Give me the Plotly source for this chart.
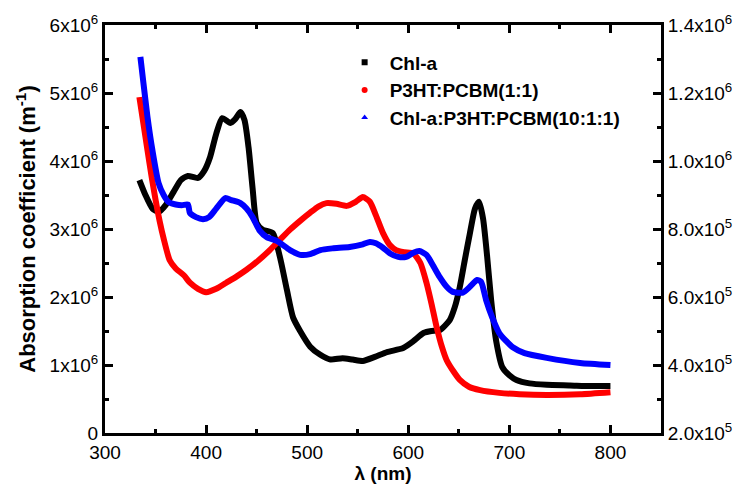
import plotly.graph_objects as go

# Chl-a (left axis, x1e6 m^-1)
chl_wl = [334, 340, 347, 353, 360, 368, 375, 382, 392, 398, 404, 410, 416, 424, 429, 434, 438,
          442, 446, 450, 456, 466, 473, 480, 486, 493, 503, 513, 523, 535, 545, 555, 567, 579,
          595, 605, 615, 623, 631, 641, 646, 651, 656, 661, 666, 670, 674, 678, 682, 687, 693,
          700, 707, 720, 737, 760, 780, 800]
chl_abs = [3.72, 3.5, 3.3, 3.25, 3.35, 3.55, 3.72, 3.78, 3.75, 3.85, 4.06, 4.4, 4.63, 4.56, 4.62,
           4.72, 4.6, 4.2, 3.6, 3.09, 2.99, 2.94, 2.59, 2.10, 1.70, 1.5, 1.27, 1.15, 1.08, 1.10,
           1.08, 1.06, 1.12, 1.19, 1.25, 1.35, 1.47, 1.5, 1.51, 1.66, 1.85, 2.15, 2.55, 2.94,
           3.3, 3.40, 3.15, 2.6, 1.95, 1.35, 0.97, 0.85, 0.78, 0.73, 0.71, 0.70, 0.69, 0.69]

# P3HT:PCBM(1:1) (left axis, x1e6 m^-1)
p3ht_wl = [334, 338, 342, 346, 350, 354, 358, 364, 370, 378, 384, 392, 400, 410, 420, 430, 440,
           452, 463, 473, 483, 493, 503, 511, 519, 529, 539, 548, 555, 562, 568, 575, 582, 588,
           596, 605, 612, 618, 623, 628, 633, 638, 645, 651, 660, 671, 690, 710, 737, 770, 800]
p3ht_abs = [4.94, 4.55, 4.16, 3.78, 3.43, 3.12, 2.86, 2.54, 2.42, 2.32, 2.21, 2.12, 2.07, 2.12,
            2.21, 2.3, 2.40, 2.54, 2.69, 2.84, 2.99, 3.12, 3.24, 3.33, 3.38, 3.37, 3.34, 3.40,
            3.47, 3.40, 3.2, 2.94, 2.76, 2.69, 2.66, 2.64, 2.5, 2.21, 1.9, 1.56, 1.28, 1.07,
            0.9, 0.78, 0.68, 0.63, 0.59, 0.57, 0.56, 0.57, 0.60]

# Chl-a:P3HT:PCBM(10:1:1) (right axis, x1e5 m^-1)
mix_wl = [335, 338, 342, 347, 353, 358, 363, 370, 376, 382, 384, 390, 397, 403, 410, 419, 425,
          434, 440, 446, 453, 460, 470, 483, 493, 503, 513, 525, 542, 555, 562, 568, 575, 582,
          590, 598, 605, 611, 618, 625, 631, 638, 644, 654, 661, 668, 672, 677, 683, 690, 697,
          703, 715, 737, 770, 800]
mix_abs = [13.06, 12.3, 11.3, 10.3, 9.35, 9.0, 8.79, 8.72, 8.7, 8.72, 8.47, 8.35, 8.29, 8.35,
           8.6, 8.91, 8.85, 8.76, 8.6, 8.35, 7.95, 7.76, 7.65, 7.38, 7.24, 7.26, 7.38, 7.43,
           7.47, 7.55, 7.62, 7.58, 7.45, 7.28, 7.18, 7.18, 7.3, 7.35, 7.24, 6.9, 6.59, 6.3,
           6.15, 6.13, 6.3, 6.5, 6.45, 5.91, 5.4, 4.94, 4.7, 4.53, 4.35, 4.21, 4.06, 4.0]

left_ticks = [0, 1e6, 2e6, 3e6, 4e6, 5e6, 6e6]
left_text = ["0"] + ["%dx10<sup>6</sup>" % i for i in range(1, 7)]
right_ticks = [2e5, 4e5, 6e5, 8e5, 1.0e6, 1.2e6, 1.4e6]
right_text = ["2.0x10<sup>5</sup>", "4.0x10<sup>5</sup>", "6.0x10<sup>5</sup>", "8.0x10<sup>5</sup>",
              "1.0x10<sup>6</sup>", "1.2x10<sup>6</sup>", "1.4x10<sup>6</sup>"]

font = "Arial, Liberation Sans, sans-serif"

fig = go.Figure()

# curves
fig.add_trace(go.Scatter(x=chl_wl, y=[v * 1e6 for v in chl_abs], mode="lines",
                         line=dict(color="black", width=6, shape="spline", smoothing=0.6),
                         showlegend=False))
fig.add_trace(go.Scatter(x=p3ht_wl, y=[v * 1e6 for v in p3ht_abs], mode="lines",
                         line=dict(color="#ff0000", width=6, shape="spline", smoothing=0.6),
                         showlegend=False))
fig.add_trace(go.Scatter(x=mix_wl, y=[v * 1e5 for v in mix_abs], mode="lines", yaxis="y2",
                         line=dict(color="#0000ff", width=6, shape="spline", smoothing=0.6),
                         showlegend=False))

# legend entries (markers only)
fig.add_trace(go.Scatter(x=[None], y=[None], mode="markers", name="<b>Chl-a</b>",
                         marker=dict(symbol="square", size=6, color="black")))
fig.add_trace(go.Scatter(x=[None], y=[None], mode="markers", name="<b>P3HT:PCBM(1:1)</b>",
                         marker=dict(symbol="circle", size=6, color="#ff0000")))
fig.add_trace(go.Scatter(x=[None], y=[None], mode="markers", name="<b>Chl-a:P3HT:PCBM(10:1:1)</b>",
                         marker=dict(symbol="triangle-up", size=6, color="#0000ff")))

fig.update_layout(
    width=741, height=484,
    margin=dict(l=105, r=80, t=25, b=51),
    plot_bgcolor="white", paper_bgcolor="white",
    font=dict(family=font, color="black"),
    xaxis=dict(range=[300, 850], tickvals=[300, 400, 500, 600, 700, 800],
               ticks="inside", ticklen=8, tickwidth=3, tickcolor="black",
               minor=dict(ticks="inside", ticklen=4, tickwidth=3, dtick=50, tick0=300),
               showline=True, linewidth=3, linecolor="black", mirror="ticks",
               showgrid=False, zeroline=False, automargin=False,
               tickfont=dict(size=19),
               title=dict(text="<b>λ (nm)</b>", font=dict(size=19), standoff=2)),
    yaxis=dict(range=[0, 6e6], tickvals=left_ticks, ticktext=left_text,
               ticks="inside", ticklen=8, tickwidth=3, tickcolor="black",
               minor=dict(ticks="inside", ticklen=4, tickwidth=3, dtick=5e5, tick0=0),
               showline=True, linewidth=3, linecolor="black",
               showgrid=False, zeroline=False, automargin=False,
               tickfont=dict(size=19),
               title=dict(text="<b>Absorption coefficient (m<sup>-1</sup>)</b>",
                          font=dict(size=22), standoff=8)),
    yaxis2=dict(range=[2e5, 1.4e6], tickvals=right_ticks, ticktext=right_text,
                overlaying="y", side="right",
                ticks="inside", ticklen=8, tickwidth=3, tickcolor="black",
                minor=dict(ticks="inside", ticklen=4, tickwidth=3, dtick=1e5, tick0=2e5),
                showline=True, linewidth=3, linecolor="black",
                showgrid=False, zeroline=False, automargin=False,
                tickfont=dict(size=19)),
    legend=dict(x=0.422, y=0.955, xanchor="left", yanchor="top",
                bgcolor="rgba(0,0,0,0)", font=dict(size=19, family=font),
                itemwidth=40, tracegroupgap=0),
)

# page has a default 8px body margin; drop it so the figure sits at the window corner
fig.write_html("out.html", config={"displayModeBar": False},
               post_script="document.body.style.margin='0';")
